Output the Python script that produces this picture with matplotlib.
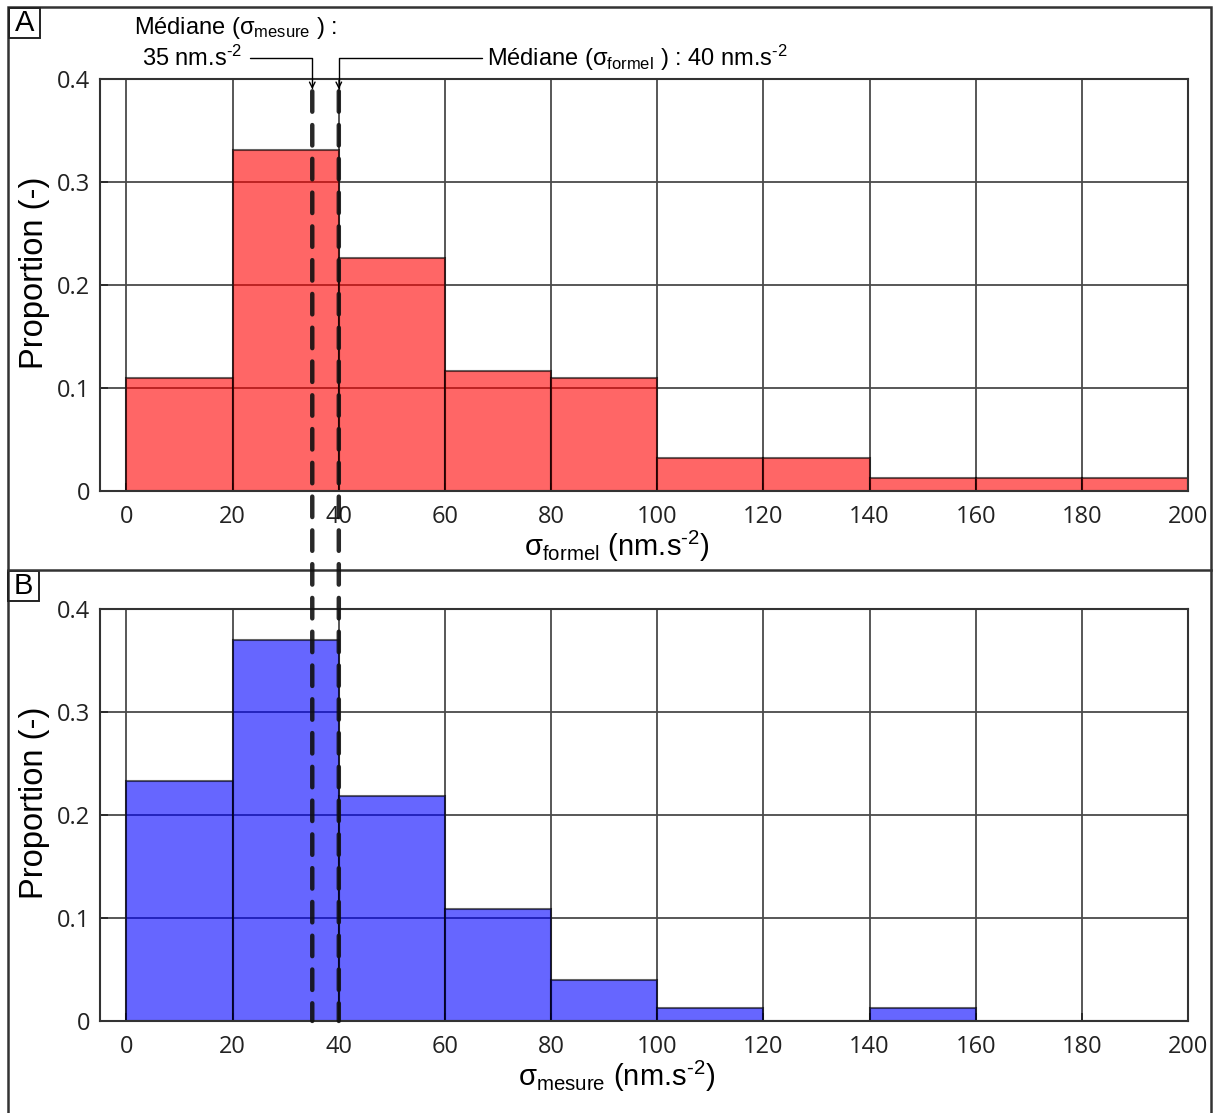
import numpy as np
import matplotlib
matplotlib.use("Agg")
import matplotlib.pyplot as plt
from matplotlib.patches import Rectangle, ConnectionPatch
from matplotlib.lines import Line2D

# ── données ────────────────────────────────────────────────────────────────
bin_edges = np.arange(0, 220, 20)
prop_formel = [0.110, 0.331, 0.226, 0.116, 0.110, 0.032, 0.032, 0.013, 0.013, 0.013]
prop_mesure = [0.233, 0.370, 0.218, 0.109, 0.040, 0.013, 0.0, 0.013, 0.0, 0.0]
median_mesure = 35
median_formel = 40
xticks = [0, 20, 40, 60, 80, 100, 120, 140, 160, 180, 200]
yticks = [0, 0.1, 0.2, 0.3, 0.4]
ytick_labels = ["0", "0.1", "0.2", "0.3", "0.4"]

plt.rcParams["font.family"] = ["Open Sans", "DejaVu Sans"]
plt.rcParams["mathtext.fontset"] = "custom"
plt.rcParams["mathtext.rm"] = "Liberation Sans"
plt.rcParams["mathtext.it"] = "Liberation Sans:italic"

LABEL_FONT = ["Liberation Sans", "DejaVu Sans"]
NARROW_FONT = ["Liberation Sans Narrow", "Liberation Sans", "DejaVu Sans"]
UNIT = r"nm.s$^{\text{-2}}$"

fig = plt.figure(figsize=(12.19, 11.13), dpi=100)
axA = fig.add_axes([0.0820, 0.5589, 0.8926, 0.3702])
axB = fig.add_axes([0.0820, 0.0827, 0.8926, 0.3702])


def draw_hist(ax, values, color, xlabel):
    ax.set_axisbelow(True)
    ax.grid(True, color="#4a4a4a", lw=1.3)
    ax.bar(bin_edges[:-1], values, width=20, align="edge",
           color=color, alpha=0.6, edgecolor="black", lw=1.5, zorder=2)
    ax.set_xlim(-5, 200)
    ax.set_ylim(0, 0.4)
    ax.set_xticks(xticks)
    ax.set_yticks(yticks)
    ax.set_yticklabels(ytick_labels)
    ax.tick_params(direction="in", length=6, width=1.2, labelsize=17,
                   colors="#222222", pad=7)
    ax.tick_params(axis="x", pad=10)
    for s in ax.spines.values():
        s.set_color("#333333")
        s.set_linewidth(1.5)
    ax.set_ylabel("Proportion (-)", fontsize=23.5, family=LABEL_FONT)
    ax.yaxis.set_label_coords(-0.046, 0.53)
    ax.set_xlabel(xlabel, fontsize=21, family=LABEL_FONT)
    ax.xaxis.set_label_coords(0.475, -0.093)


draw_hist(axA, prop_formel, "red", r"$\mathrm{\sigma_{formel}}$ (" + UNIT + ")")
draw_hist(axB, prop_mesure, "blue", r"$\mathrm{\sigma_{mesure}}$ (" + UNIT + ")")

# ── lignes médianes (traversent les deux panneaux) ─────────────────────────
y_top = 0.388
for med in (median_mesure, median_formel):
    con = ConnectionPatch(xyA=(med, y_top), coordsA=axA.transData,
                          xyB=(med, 0), coordsB=axB.transData,
                          arrowstyle="-", lw=3.2, color="#111111", alpha=0.9,
                          linestyle=(0, (4.6, 3.0)), zorder=5)
    fig.add_artist(con)

# ── annotations ───────────────────────────────────────────────────────────
y_line = 0.420
arrow_kw = dict(arrowstyle="->", lw=1.0, color="black", shrinkA=0, shrinkB=0,
                connectionstyle="angle,angleA=0,angleB=90,rad=0")
axA.annotate("", xy=(median_mesure, y_top + 0.002), xytext=(23.3, y_line),
             arrowprops=arrow_kw, annotation_clip=False)
axA.annotate("", xy=(median_formel, y_top + 0.002), xytext=(66.9, y_line),
             arrowprops=arrow_kw, annotation_clip=False)
axA.text(1.5, 0.4495, r"Médiane ($\mathrm{\sigma_{mesure}}$ ) :", fontsize=17,
         family=NARROW_FONT, va="center", ha="left", clip_on=False)
axA.text(3.0, y_line, "35 " + UNIT, fontsize=17,
         family=NARROW_FONT, va="center", ha="left", clip_on=False)
axA.text(68.0, y_line, r"Médiane ($\mathrm{\sigma_{formel}}$ ) : 40 " + UNIT,
         fontsize=17, family=NARROW_FONT, va="center", ha="left", clip_on=False)

# ── cadre général, séparateur, étiquettes A / B ────────────────────────────
W, H = 1219, 1113
fig.add_artist(Rectangle((8 / W, -0.01), (1211 - 8) / W, 1.01 - 7 / H,
                         transform=fig.transFigure, fill=False,
                         edgecolor="#333333", lw=1.8))
fig.add_artist(Line2D([8 / W, 1211 / W], [1 - 570 / H, 1 - 570 / H],
                      transform=fig.transFigure, color="#333333", lw=1.8))
for lab, x0, y0 in (("A", 9, 8), ("B", 8, 571)):
    fig.add_artist(Rectangle((x0 / W, 1 - (y0 + 30) / H), 31 / W, 30 / H,
                             transform=fig.transFigure, fill=False,
                             edgecolor="#222222", lw=1.4))
    fig.text((x0 + 15.5) / W, 1 - (y0 + 15) / H, lab, fontsize=21,
             family=LABEL_FONT, ha="center", va="center")

plt.savefig("out.png", dpi=100)
plt.close()
